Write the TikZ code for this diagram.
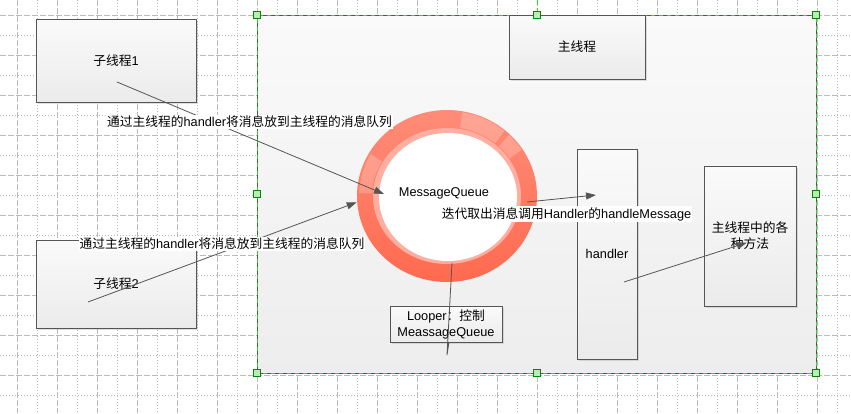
\documentclass[tikz,border=0pt]{standalone}
\usepackage{fontspec}
\setmainfont{Liberation Sans}
\newfontfamily\cjk{Noto Sans CJK SC}
\usetikzlibrary{arrows.meta,shadows}
\newcommand{\zh}[1]{{\cjk #1}}
\newcommand{\fsz}{\fontsize{12.75}{16}\selectfont}
\definecolor{gridgray}{HTML}{BABABA}
\definecolor{edge}{HTML}{555555}
\definecolor{selgreen}{HTML}{22DD22}
\definecolor{handlefill}{HTML}{B6EEB6}
\definecolor{handledraw}{HTML}{008800}
\definecolor{ringtop}{HTML}{FF8C78}
\definecolor{ringmid}{HTML}{FF7A63}
\definecolor{ringbot}{HTML}{FF6A50}
\definecolor{ringpale}{HTML}{FFAE9F}
\definecolor{boxtop}{HTML}{FAFAFA}
\definecolor{boxbot}{HTML}{EBEBEB}
\tikzset{
  gdash/.style={gridgray, line width=0.8pt, dash pattern=on 6pt off 2pt},
  gdot/.style={gridgray, line width=0.8pt, dash pattern=on 1pt off 2pt},
  box/.style={draw=edge, line width=0.8pt, top color=boxtop, bottom color=boxbot,
    drop shadow={shadow xshift=1.5pt, shadow yshift=-1.5pt, opacity=0.3, fill=black!40},
    inner sep=0pt, font=\fsz, align=center},
  lab/.style={fill=white, inner sep=1pt, font=\fsz},
  conn/.style={draw=edge, line width=0.8pt, -{Triangle[length=10pt,width=7pt]}},
  plainline/.style={draw=edge, line width=0.8pt},
  hdl/.style={fill=handlefill, draw=handledraw, line width=0.8pt},
  gloss/.style={fill=white, opacity=0.22},
}
\begin{document}
\begin{tikzpicture}[x=1pt,y=-1pt]
\useasboundingbox (0,0) rectangle (851,413);
\fill[white] (0,0) rectangle (851,413);
% grid
\foreach \gx in {17,57,...,817} \draw[gdash] (\gx,0) -- (\gx,413);
\foreach \gx in {37,77,...,837} \draw[gdot] (\gx,0) -- (\gx,413);
\foreach \gy in {15,55,...,375} \draw[gdash] (0,\gy) -- (851,\gy);
\foreach \gy in {35,75,...,395} \draw[gdot] (0,\gy) -- (851,\gy);
% container
\path[top color=boxtop, bottom color=white!93!black] (257,15) rectangle (816,373);
\draw[edge, line width=0.8pt, dash pattern=on 4pt off 4pt] (257,15) rectangle (816,373);
\draw[selgreen, line width=0.8pt, dash pattern=on 4pt off 4pt, dash phase=4pt] (257,15) rectangle (816,373);
\draw[selgreen, line width=0.8pt, dash pattern=on 5pt off 3pt] (537,0) -- (537,15);
% boxes
\node[box, minimum width=160pt, minimum height=83pt] (t1) at (116,60.5) {\zh{子线程}1};
\node[box, minimum width=160pt, minimum height=88pt] (t2) at (116,284) {\zh{子线程}2};
\node[box, minimum width=136pt, minimum height=64pt] (mt) at (577,47) {\zh{主线程}};
\node[box, minimum width=60pt, minimum height=210pt] (hd) at (607,254) {handler};
\node[box, minimum width=92pt, minimum height=140pt] (me) at (750,236) {\zh{主线程中的各}\\\zh{种方法}};
\node[box, minimum width=112pt, minimum height=36pt] (lp) at (446,324) {Looper\zh{：控制}\\MeassageQueue};
% ring
\path[top color=ringtop, middle color=ringmid, bottom color=ringbot] (447,196) ellipse [x radius=90pt, y radius=86pt];
\fill[gloss] plot[domain=50:80, samples=20] ({447+89*cos(\x)},{196-85*sin(\x)})
  -- plot[domain=80:50, samples=20] ({447+75*cos(\x)},{196-69*sin(\x)}) -- cycle;
\fill[gloss] plot[domain=33:46, samples=10] ({447+89*cos(\x)},{196-85*sin(\x)})
  -- plot[domain=46:33, samples=10] ({447+75*cos(\x)},{196-69*sin(\x)}) -- cycle;
\fill[gloss] plot[domain=150:178, samples=15] ({447+88*cos(\x)},{196-84*sin(\x)})
  -- plot[domain=178:150, samples=15] ({447+75*cos(\x)},{196-69*sin(\x)}) -- cycle;
\fill[ringpale] (447,196) ellipse [x radius=74pt, y radius=68pt];
\fill[white] (448,197) ellipse [x radius=69pt, y radius=64pt];
\node[font=\fsz, inner sep=0pt] (mq) at (444,193) {MessageQueue};
% connector ends
\coordinate (a1s) at (117,82);
\coordinate (a1e) at (384,194);
\coordinate (a2s) at (88,302);
\coordinate (a2e) at (356.7,202.3);
\coordinate (a3s) at (527,202);
\coordinate (a3e) at (596,195);
\coordinate (a4s) at (624,282);
\coordinate (a4e) at (746.7,242.7);
\coordinate (l1) at (452,263);
\coordinate (l2) at (447,355);
\coordinate (l3) at (449,342);
\draw[conn] (a1s) -- (a1e);
\draw[conn] (a2s) -- (a2e);
\draw[conn] (a3s) -- (a3e);
\draw[conn] (a4s) -- (a4e);
\draw[plainline] (l1) -- (l2) -- (l3);
% labels
\node[lab] (lb1) at (249.5,122) {\zh{通过主线程的}handler\zh{将消息放到主线程的消息队列}};
\node[lab] (lb2) at (222,244) {\zh{通过主线程的}handler\zh{将消息放到主线程的消息队列}};
\node[lab] (lb3) at (566.5,214) {\zh{迭代取出消息调用}Handler\zh{的}handleMessage};
% selection handles
\foreach \hx/\hy in {257/15,537/15,816/15,257/194,816/194,257/373,537/373,816/373}
  \filldraw[hdl] (\hx-3.5,\hy-3.5) rectangle (\hx+3.5,\hy+3.5);
\end{tikzpicture}
\end{document}
